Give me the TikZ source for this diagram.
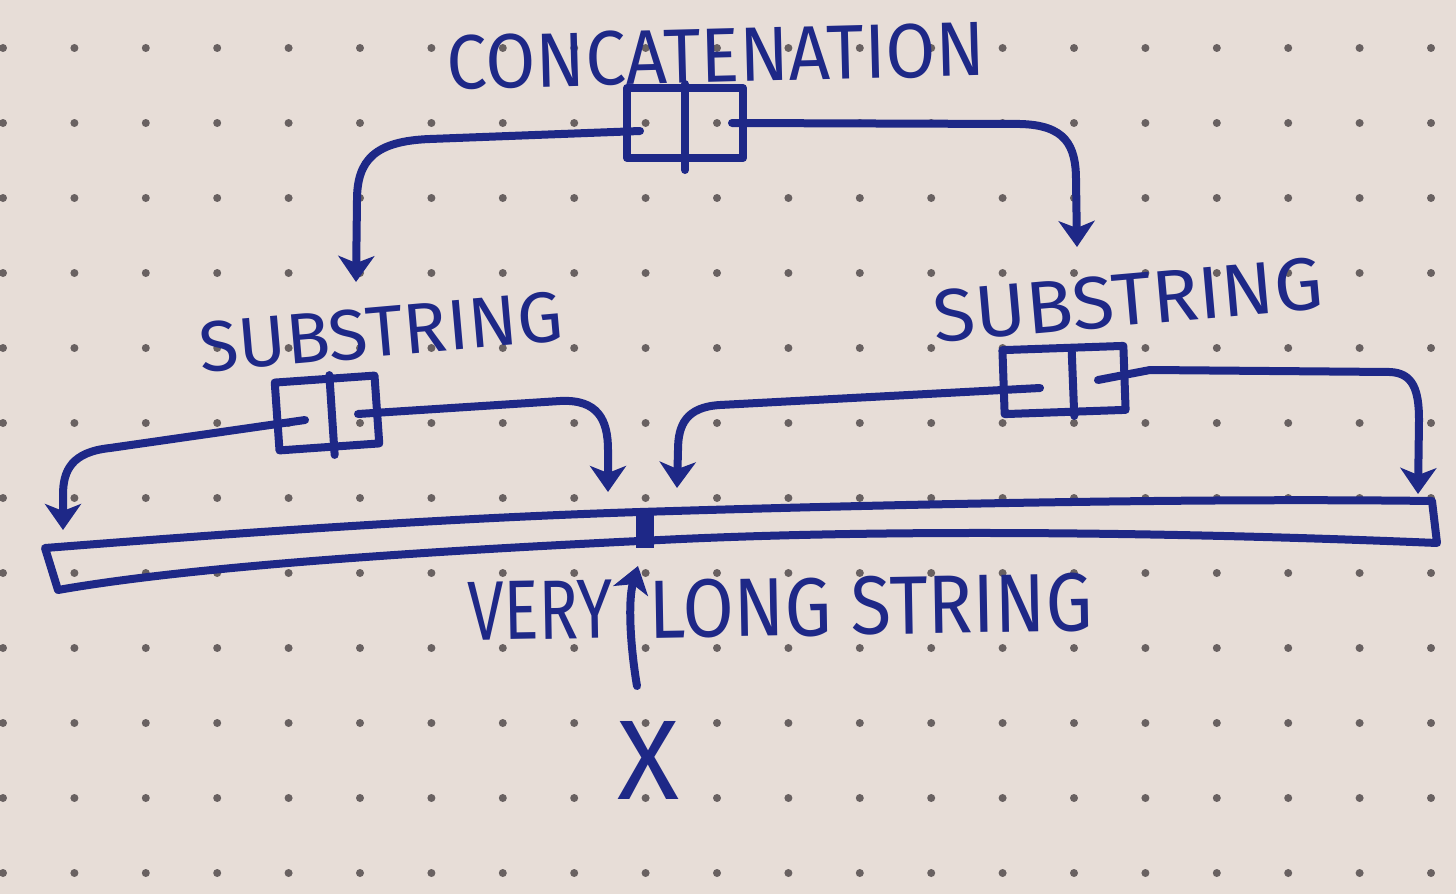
\documentclass[tikz,border=0pt]{standalone}
\usepackage{fontspec}
\setmainfont{Fira Sans}
\usetikzlibrary{arrows.meta}
\newlength\px \setlength\px{0.5691pt}
\definecolor{paper}{RGB}{231,221,215}
\definecolor{ink}{RGB}{30,40,135}
\definecolor{dotc}{RGB}{105,97,97}
\tikzset{
  pen/.style={draw=ink, line width=8\px, line cap=round, line join=round},
  ptr/.style={pen, -{Stealth[length=14.8pt,width=20.5pt,inset=4pt]}},
  cellbox/.style={draw=ink, line width=8\px, rectangle, inner sep=0pt, line join=round},
  lbl/.style={text=ink, inner sep=0pt},
}
\begin{document}
\begin{tikzpicture}[x=1\px, y=-1\px]
\useasboundingbox (0,0) rectangle (1456,894);
\fill[paper] (0,0) rectangle (1456,894);
% dot grid
\foreach \i in {0,...,20}{\foreach \j in {0,...,11}{
  \fill[dotc] ({3+71.4*\i},{48+75*\j}) circle[radius=4\px];}}

% labels
\node[lbl, rotate=1.5] (tcat) at (716,56) {\resizebox{538\px}{54\px}{CONCATENATION}};
\node[lbl, rotate=5] (tsl) at (381,332) {\resizebox{365\px}{50\px}{SUBSTRING}};
\node[lbl, rotate=5] (tsr) at (1128,300) {\resizebox{390\px}{52\px}{SUBSTRING}};
\node[lbl, rotate=1] (tvery) at (540,610) {\resizebox{145\px}{58\px}{VERY}};
\node[lbl, rotate=1] (tlong) at (871,606) {\resizebox{443\px}{58\px}{LONG STRING}};
\node[lbl] (xn) at (648,760) {\resizebox{62\px}{78\px}{X}};

% concatenation cell
\node[cellbox, minimum width=116\px, minimum height=70\px] (cat) at (685,123) {};
\draw[pen] (cat.north) -- ([yshift=-8\px]cat.south);
% left substring cell
\node[cellbox, minimum width=100\px, minimum height=68\px, rotate=4] (sl) at (327,413) {};
\draw[pen] ([xshift=5\px]sl.north) -- ([xshift=5\px,yshift=-4\px]sl.south);
% right substring cell
\node[cellbox, minimum width=121\px, minimum height=64\px, rotate=2] (sr) at (1064,380) {};
\draw[pen] ([xshift=9\px,yshift=-8\px]sr.north) -- ([xshift=9\px]sr.south);

% pointer starts
\coordinate (c1) at (640,131);
\coordinate (c2) at (732,123);
\coordinate (l1) at (305,420);
\coordinate (l2) at (358,414);
\coordinate (r1) at (1040,388);
\coordinate (r2) at (1098,380);
% arrow tips
\coordinate (t1) at (356,282);
\coordinate (t2) at (1077,247);
\coordinate (t3) at (63,530);
\coordinate (t4) at (608,492);
\coordinate (t5) at (677,488);
\coordinate (t6) at (1418,494);

% very long string
\draw[pen] (45,548) .. controls (250,532) and (450,518) .. (640,512)
  .. controls (900,504) and (1200,498) .. (1432,501) -- (1437,543)
  .. controls (1200,533) and (900,528) .. (660,540)
  .. controls (450,550) and (200,565) .. (58,590) -- cycle;
\coordinate (mark) at (645,512);
\coordinate (markb) at (645,548);
\draw[ink, line width=18\px] (mark) -- (markb);

% pointers
\draw[ptr] (c1) -- (430,139) .. controls (375,141) and (357,160) .. (357,200) -- (t1);
\draw[ptr] (c2) -- (1020,124) .. controls (1065,125) and (1076,145) .. (1076,180) -- (t2);
\draw[ptr] (l1) -- (110,448) .. controls (72,452) and (63,470) .. (63,495) -- (t3);
\draw[ptr] (l2) -- (560,401) .. controls (598,399) and (608,420) .. (608,450) -- (t4);
\draw[ptr] (r1) -- (720,405) .. controls (686,407) and (678,425) .. (678,450) -- (t5);
\draw[ptr] (r2) -- (1150,370) -- (1390,372) .. controls (1413,373) and (1419,390) .. (1419,420) -- (t6);

% X pointer
\coordinate (xtail) at (637,686);
\coordinate (strpt) at (638,566);
\draw[ptr] (xtail) .. controls (630,645) and (628,600) .. (strpt);
\end{tikzpicture}
\end{document}
